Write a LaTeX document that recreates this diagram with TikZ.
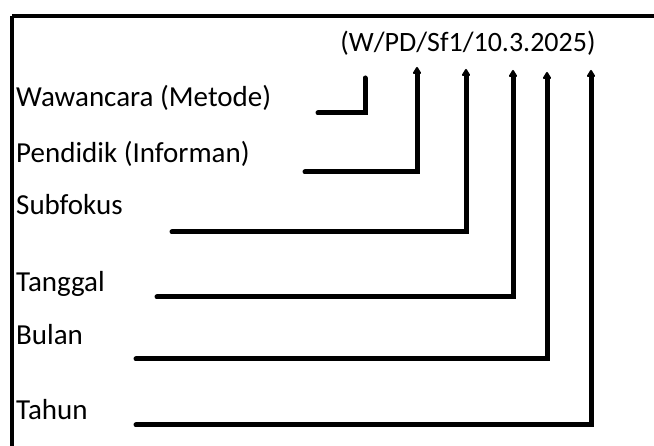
\documentclass[tikz,border=0pt]{standalone}
\usepackage{fontspec}
\setmainfont{Carlito}
\usetikzlibrary{arrows.meta}

\begin{document}
\begin{tikzpicture}[x=1pt, y=-1pt, >={Triangle[round, length=8pt, width=9pt]},
every node/.style={font=\fontsize{29}{34}\selectfont, inner sep=0pt},
label/.style={anchor=base west},
kaki/.style={line width=5pt, line cap=round}]
\useasboundingbox (0,0) rectangle (654,446);
% bingkai
\draw [line width=4pt] (12,16) -- (654,16);
\draw [line width=3.5pt] (12,16) -- (12,446);
% kode dan keterangan
\node (kode) [anchor=base, font=\fontsize{28}{34}\selectfont] at (468,52) {(W/PD/Sf1/10.3.2025)};
\node (metode) [label] at (16,107) {Wawancara (Metode)};
\node (informan) [label] at (16,163) {Pendidik (Informan)};
\node (subfokus) [label] at (16,215) {Subfokus};
\node (tanggal) [label] at (16,292) {Tanggal};
\node (bulan) [label] at (16,345) {Bulan};
\node (tahun) [label] at (16,420) {Tahun};
% ujung garis
\coordinate (m0) at (318,113); \coordinate (m1) at (365,78);
\coordinate (i0) at (305,172); \coordinate (i1) at (417,67);
\coordinate (s0) at (172,232); \coordinate (s1) at (466,69);
\coordinate (t0) at (157,297); \coordinate (t1) at (513,70);
\coordinate (b0) at (136,359); \coordinate (b1) at (547,72);
\coordinate (y0) at (136,425); \coordinate (y1) at (591,70);
\draw [kaki] (m0) -| (m1);
\foreach \k in {i,s,t,b,y}
  \draw [kaki,->] (\k0) -| (\k1);
\end{tikzpicture}
\end{document}
